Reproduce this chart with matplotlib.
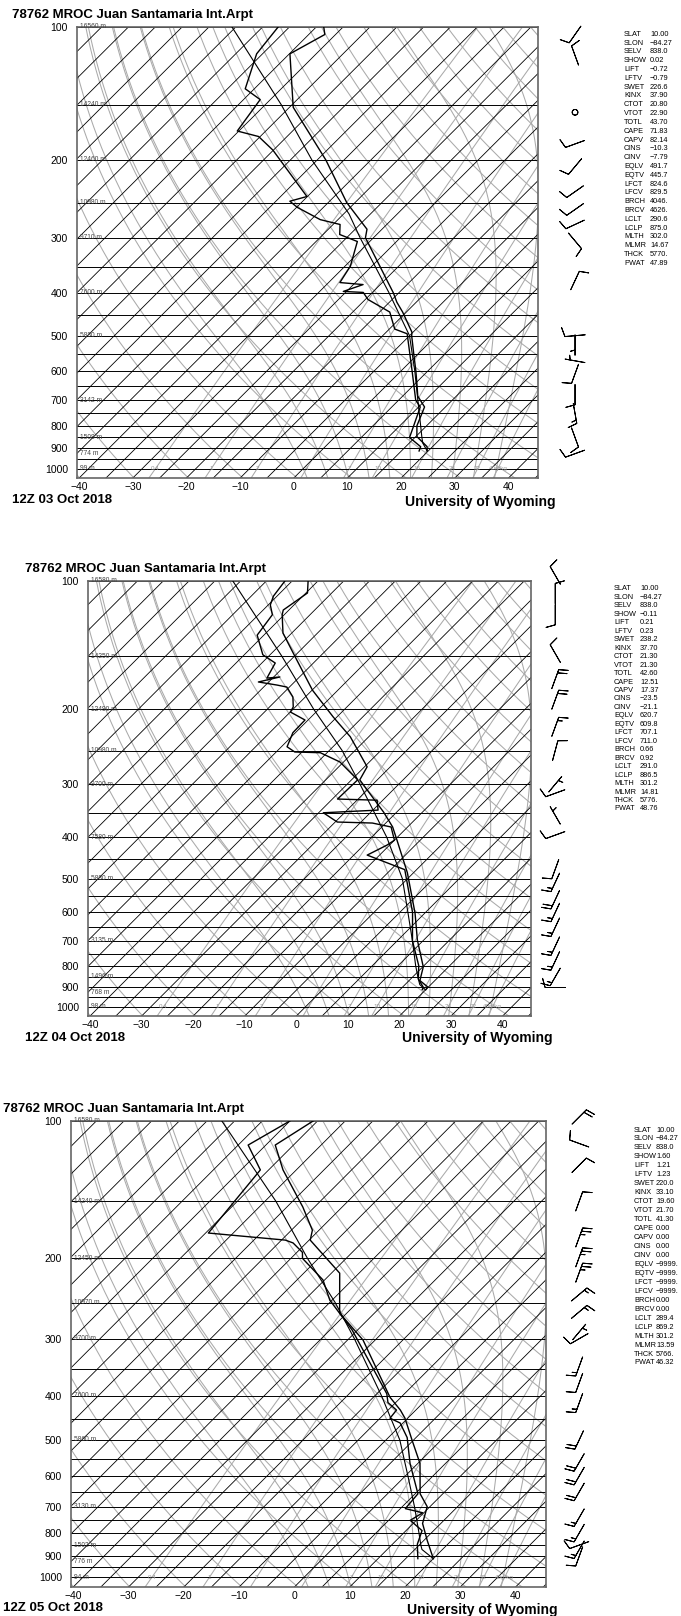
import numpy as np
import matplotlib
matplotlib.use('Agg')
import matplotlib.pyplot as plt
from matplotlib.ticker import NullLocator, NullFormatter

plt.rcParams['font.family'] = ['Liberation Sans', 'DejaVu Sans']

titles = ['78762 MROC Juan Santamaria Int.Arpt'] * 3
dates = ['12Z 03 Oct 2018', '12Z 04 Oct 2018', '12Z 05 Oct 2018']

# temperature profiles (hPa, degC)
t1_p = [912, 892, 846, 800, 725, 685, 650, 600, 550, 500, 491, 442, 420, 400, 300, 287, 250, 200, 152, 115, 104, 100]
t1_t = [19.8, 19.0, 15.2, 13.2, 11.1, 7.8, 5.8, 2.7, -0.8, -4.6, -5.2, -10.7, -13.6, -16.0, -31.5, -32.8, -41.5, -53.4, -69.3, -79.9, -77.0, -78.6]
td1_p = [912, 892, 850, 800, 725, 700, 600, 495, 483, 442, 414, 399, 397, 383, 379, 348, 306, 295, 280, 273, 256, 248, 242, 190, 177, 172, 146, 138, 115, 100]
td1_t = [18.3, 17.8, 14.0, 12.6, 10.3, 8.2, 2.0, -5.8, -9.0, -13.1, -19.5, -21.7, -25.6, -23.2, -27.9, -29.0, -32.3, -36.9, -38.7, -43.3, -49.9, -52.4, -50.1, -65.1, -70.3, -75.3, -76.9, -81.7, -86.1, -87.1]
pc1_p = [912, 875, 850, 800, 700, 600, 500, 400, 300, 265, 200, 150, 100]
pc1_t = [19.8, 17.5, 16.3, 13.9, 8.6, 2.5, -5.0, -16.8, -32.5, -39.0, -56.0, -72.0, -95.7]

t2_p = [910, 898, 867, 805, 697, 602, 484, 406, 378, 349, 293, 273, 232, 208.6, 180.5, 153, 132.5, 120, 117, 106.7, 100]
t2_t = [20.0, 19.9, 17.1, 15.1, 8.8, 3.1, -6.2, -14.5, -17.9, -22.5, -33.4, -34.5, -43.6, -50.7, -59.9, -68.9, -76.7, -80.4, -81.1, -79.7, -81.9]
td2_p = [910, 898, 860, 800, 700, 600, 476, 440, 417, 406, 378, 370, 368, 350, 345, 327, 325, 293, 266, 253, 252, 245,
         227, 212, 203, 197.6, 187.2, 177.4, 175.5, 172.6, 168, 169, 155.8, 149, 134, 120, 113.8, 108.5, 100]
td2_t = [19.3, 19.0, 16.5, 14.0, 8.0, 2.5, -7.3, -17.4, -15.5, -15.0, -18.2, -22.6, -29.6, -34.1, -24.0, -26.1, -34.0, -33.8, -40.7, -46.3, -51.4, -53.9,
         -55.5, -55.6, -60.0, -60.4, -62.4, -65.5, -67.8, -72.0, -68.8, -71.1, -72.4, -76.4, -81.3, -82.3, -84.6, -85.7, -86.4]
pc2_p = [912, 886, 850, 800, 700, 600, 500, 400, 300, 250, 200, 150, 100]
pc2_t = [20.0, 17.85, 16.0, 13.4, 8.0, 1.6, -6.0, -17.0, -32.5, -42.5, -56.0, -72.5, -96.5]

t3_p = [910, 830, 762, 700, 656, 563, 501, 448, 430, 403, 302, 263.6, 215.5, 182.4, 173.5, 154.4, 128, 112.9, 100]
t3_t = [20.0, 15.6, 11.7, 9.5, 5.9, 0.4, -5.2, -10.5, -12.8, -17.0, -32.2, -41.3, -48.5, -59.8, -61.2, -67.1, -77.4, -83.3, -80.8]
td3_p = [910, 846, 790, 750, 722, 707, 656, 563, 494, 459, 448, 430, 414, 396, 287, 247, 223, 200, 194, 185, 182.4, 176, 128, 112.9, 100]
td3_t = [17.2, 14.5, 12.9, 8.9, 9.8, 5.9, 5.5, -1.4, -6.6, -10.5, -13.2, -13.5, -16.4, -18.2, -36.0, -45.4, -50.3, -57.9, -59.0, -62.4, -64.3, -79.5, -81.5, -88.2, -85.0]
pc3_p = [910, 869, 850, 800, 700, 600, 500, 400, 300, 250, 200, 150, 100]
pc3_t = [20.0, 16.3, 15.3, 12.8, 7.2, 0.5, -7.5, -18.8, -34.0, -44.0, -57.0, -73.0, -97.3]

# winds (hPa, direction deg, speed kt)
w1_p = [104, 116, 156, 184, 207, 236, 259, 280, 305, 375, 500, 525, 570, 610, 680, 750, 850, 925]
w1_d = [215, 340, 0, 250, 220, 235, 235, 245, 140, 25, 265, 180, 280, 200, 180, 170, 160, 250]
w1_s = [10, 10, 0, 10, 10, 10, 10, 10, 10, 10, 10, 5, 5, 10, 10, 15, 10, 10]

w2_p = [97, 107, 120, 148, 170, 190, 220, 250, 300, 315, 355, 395, 475, 510, 560, 600, 650, 720, 780, 850, 900]
w2_d = [330, 0, 180, 330, 20, 20, 20, 15, 40, 250, 330, 250, 200, 205, 205, 205, 205, 205, 205, 210, 270]
w2_s = [10, 10, 10, 10, 20, 20, 15, 10, 5, 10, 5, 10, 10, 15, 20, 15, 15, 15, 15, 15, 10]

w3_p = [98, 112, 125, 150, 180, 199, 215, 240, 262, 290, 300, 345, 375, 415, 500, 560, 600, 650, 740, 800, 850, 870, 900]
w3_d = [45, 290, 45, 20, 20, 20, 20, 50, 50, 40, 240, 200, 200, 200, 205, 210, 210, 210, 210, 210, 250, 210, 200]
w3_s = [20, 10, 10, 10, 25, 25, 25, 15, 15, 5, 10, 15, 10, 15, 20, 20, 20, 20, 15, 15, 10, 15, 10]

# station indices
stat_names = ['SLAT', 'SLON', 'SELV', 'SHOW', 'LIFT', 'LFTV', 'SWET', 'KINX', 'CTOT', 'VTOT', 'TOTL', 'CAPE', 'CAPV',
              'CINS', 'CINV', 'EQLV', 'EQTV', 'LFCT', 'LFCV', 'BRCH', 'BRCV', 'LCLT', 'LCLP', 'MLTH', 'MLMR', 'THCK', 'PWAT']
stats_1 = ['10.00', '\u221284.27', '838.0', '0.02', '\u22120.72', '\u22120.79', '226.6', '37.90', '20.80', '22.90', '43.70', '71.83', '82.14',
           '\u221210.3', '\u22127.79', '491.7', '445.7', '824.6', '829.5', '4046.', '4626.', '290.6', '875.0', '302.0', '14.67', '5770.', '47.89']
stats_2 = ['10.00', '\u221284.27', '838.0', '\u22120.11', '0.21', '0.23', '238.2', '37.70', '21.30', '21.30', '42.60', '12.51', '17.37',
           '\u221223.5', '\u221221.1', '620.7', '609.8', '707.1', '711.0', '0.66', '0.92', '291.0', '886.5', '301.2', '14.81', '5776.', '48.76']
stats_3 = ['10.00', '\u221284.27', '838.0', '1.60', '1.21', '1.23', '220.0', '33.10', '19.60', '21.70', '41.30', '0.00', '0.00',
           '0.00', '0.00', '\u22129999.', '\u22129999.', '\u22129999.', '\u22129999.', '0.00', '0.00', '289.4', '869.2', '301.2', '13.59', '5766.', '46.32']

hgt_levels = [100, 150, 200, 250, 300, 400, 500, 700, 850, 925, 1000]
hgt_1 = ['16560 m', '14240 m', '12460 m', '10980 m', '9710 m', '7600 m', '5880 m', '3142 m', '1508 m', '774 m', '99 m']
hgt_2 = ['16580 m', '14250 m', '12490 m', '10980 m', '9700 m', '7580 m', '5880 m', '3135 m', '1496 m', '768 m', '98 m']
hgt_3 = ['16580 m', '14240 m', '12450 m', '10970 m', '9700 m', '7600 m', '5860 m', '3130 m', '1502 m', '776 m', '94 m']

mix_ratios = [0.4, 1, 2, 4, 7, 10, 16, 24, 32, 40]
mix_labels = ['0.4', '1', '2', '4', '7', '10', '16', '24', '32', '40g/kg']
p_ticks = [100, 200, 300, 400, 500, 600, 700, 800, 900, 1000]
t_ticks = [-40, -30, -20, -10, 0, 10, 20, 30, 40]

# ---------------- layout ----------------
FW, FH = 681, 1616
K = 35.8            # skew: degC per unit of ln(p)
P_BOT, P_TOP = 1050., 100.
X_MIN, X_MAX = -40.4, 45.5
GRAY = '#aaaaaa'

# pixel boxes (left, top, right, bottom), text anchors
boxes = [(77, 27, 538, 478), (88, 581, 531, 1016), (71, 1121, 546, 1587)]
title_xy = [(12, 15), (25, 569), (3, 1109)]
date_xy = [(12, 500), (25, 1038), (3, 1608)]
uow_xy = [(405, 502), (402, 1038), (407, 1610)]
stat_xy = [(624, 650, 34.3, 8.81), (614, 640, 589, 8.46), (634, 656, 1130, 8.96)]
barb_x = [52.4, 50.2, 51.5]


def skew(t, p):
    return np.asarray(t, float) + K * np.log(P_BOT / np.asarray(p, float))


def moist_adiabat(thw, pres):
    # pseudo-adiabat through (1000 hPa, thw), RK4 in pressure
    def dtdp(p, t):
        es = 6.112 * np.exp(17.67 * (t - 273.15) / (t - 29.65))
        rs = 0.622 * es / (p - es)
        return (287.04 * t + 2.501e6 * rs) / (p * (1005.7 + 2.501e6 ** 2 * rs * 0.622 / (287.04 * t * t)))
    out = {}
    for direction in (-1, 1):
        p, t = 1000., thw + 273.15
        out[p] = t
        stop = pres.min() if direction < 0 else pres.max()
        while (p > stop) if direction < 0 else (p < stop):
            h = 2.0 * direction
            k1 = dtdp(p, t)
            k2 = dtdp(p + h / 2, t + h / 2 * k1)
            k3 = dtdp(p + h / 2, t + h / 2 * k2)
            k4 = dtdp(p + h, t + h * k3)
            t += h / 6 * (k1 + 2 * k2 + 2 * k3 + k4)
            p += h
            out[p] = t
    ps = np.array(sorted(out))
    return ps, np.array([out[q] for q in ps]) - 273.15


def mix_td(w, p):
    e = w * p / (622. + w)
    a = np.log(e / 6.112)
    return 243.5 * a / (17.67 - a)


fig = plt.figure(figsize=(FW / 100, FH / 100), dpi=100)

panels = [
    (t1_p, t1_t, td1_p, td1_t, pc1_p, pc1_t, w1_p, w1_d, w1_s, stats_1, hgt_1),
    (t2_p, t2_t, td2_p, td2_t, pc2_p, pc2_t, w2_p, w2_d, w2_s, stats_2, hgt_2),
    (t3_p, t3_t, td3_p, td3_t, pc3_p, pc3_t, w3_p, w3_d, w3_s, stats_3, hgt_3),
]

pgrid = np.geomspace(P_BOT, P_TOP, 200)

for i, (tp, tt, dp, dt, pp, pt, wp, wd, ws, stv, hg) in enumerate(panels):
    l, t, r, b = boxes[i]
    ax = fig.add_axes([l / FW, 1 - b / FH, (r - l) / FW, (b - t) / FH])
    ax.set_yscale('log')

    # isobars
    for p in range(100, 1001, 50):
        ax.plot([X_MIN, X_MAX], [p, p], color='k', lw=0.7, zorder=2)
    # isotherms
    for t0 in range(-130, 50, 5):
        ax.plot(skew([t0, t0], [P_BOT, P_TOP]), [P_BOT, P_TOP], color='k', lw=0.6, zorder=2)
    # dry adiabats
    for th in range(230, 490, 10):
        tt_d = th * (pgrid / 1000.) ** 0.2857 - 273.15
        ax.plot(skew(tt_d, pgrid), pgrid, color=GRAY, lw=0.75, zorder=1)
    # moist adiabats
    for thw in range(0, 40, 4):
        mp, mt = moist_adiabat(thw, np.array([P_TOP, P_BOT]))
        ax.plot(skew(mt, mp), mp, color=GRAY, lw=0.75, zorder=1)
    # mixing ratio lines + labels
    for w, lab in zip(mix_ratios, mix_labels):
        ax.plot(skew(mix_td(w, pgrid), pgrid), pgrid, color=GRAY, lw=0.75, zorder=1)
        ax.text(skew(mix_td(w, 1000.), 1000.), 1000, lab, fontsize=4.5, color='#999999',
                ha='center', va='center', zorder=3)
    # height labels
    for p, lab in zip(hgt_levels, hg):
        ax.text(X_MIN + 0.5, p, lab, fontsize=4.8, color='#444444', ha='left', va='center', zorder=3)

    # sounding
    ax.plot(skew(pt, pp), pp, color='k', lw=0.8, zorder=4)
    ax.plot(skew(tt, tp), tp, color='k', lw=1.0, zorder=5)
    ax.plot(skew(dt, dp), dp, color='k', lw=1.0, zorder=5)

    # wind barbs
    rad = np.deg2rad(wd)
    u = -np.asarray(ws) * np.sin(rad)
    v = -np.asarray(ws) * np.cos(rad)
    ax.barbs(np.full(len(wp), barb_x[i]), wp, u, v, length=5.4, pivot='middle', linewidth=0.7,
             clip_on=False, sizes=dict(spacing=0.17, height=0.45, emptybarb=0.14), zorder=6)

    ax.set_xlim(X_MIN, X_MAX)
    ax.set_ylim(P_BOT, P_TOP)
    ax.yaxis.set_minor_locator(NullLocator())
    ax.yaxis.set_minor_formatter(NullFormatter())
    ax.set_yticks(p_ticks)
    ax.set_yticklabels([str(p) for p in p_ticks])
    ax.set_xticks(t_ticks)
    ax.set_xticklabels([('\u2212%d' % -v if v < 0 else '%d' % v) for v in t_ticks])
    ax.tick_params(axis='both', length=0, labelsize=7.5)
    ax.tick_params(axis='y', pad=6.5)
    ax.tick_params(axis='x', pad=3)
    for s in ax.spines.values():
        s.set_color('#666666')
        s.set_linewidth(1.2)

    # texts
    fig.text(title_xy[i][0] / FW, 1 - title_xy[i][1] / FH, titles[i], fontsize=9.5,
             fontweight='bold', ha='left', va='center')
    fig.text(date_xy[i][0] / FW, 1 - date_xy[i][1] / FH, dates[i], fontsize=9.5,
             fontweight='bold', ha='left', va='center')
    fig.text(uow_xy[i][0] / FW, 1 - uow_xy[i][1] / FH, 'University of Wyoming', fontsize=10,
             fontweight='bold', ha='left', va='center')
    lx, vx, y0, dy = stat_xy[i]
    for j, (name, val) in enumerate(zip(stat_names, stv)):
        yy = 1 - (y0 + j * dy) / FH
        fig.text(lx / FW, yy, name, fontsize=5.3, ha='left', va='center')
        fig.text(vx / FW, yy, val, fontsize=5.3, ha='left', va='center')

fig.savefig('out.png', dpi=100)
